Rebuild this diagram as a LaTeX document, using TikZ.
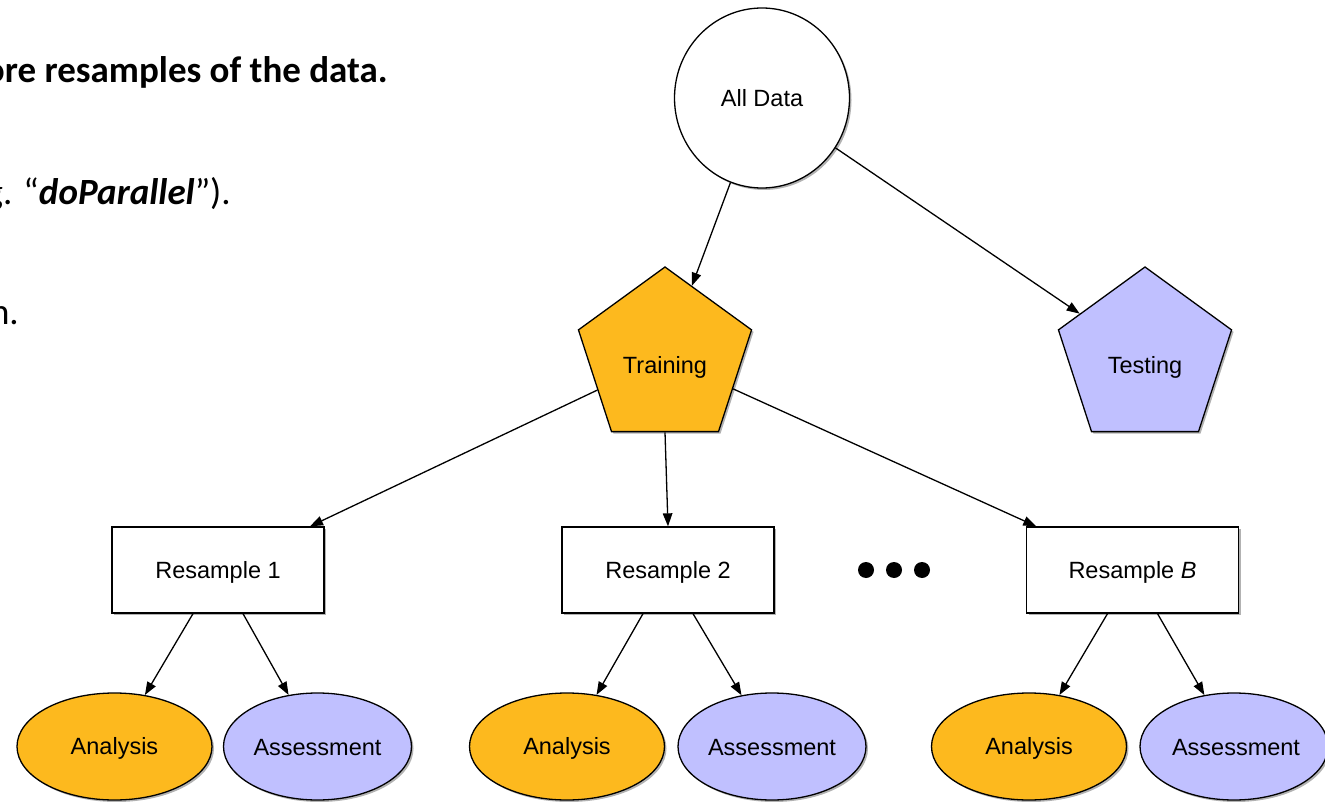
\documentclass[tikz,border=0pt]{standalone}
\usepackage{fontspec}
\setmainfont{Liberation Sans}
\newfontfamily\bodyfont{Carlito}
\usetikzlibrary{shapes.geometric,arrows.meta,shadows}
\definecolor{trainorange}{RGB}{253,185,30}
\definecolor{testlav}{RGB}{192,192,255}

\begin{document}
\begin{tikzpicture}[x=1pt,y=-1pt,
  lbl/.style={font=\fontsize{23.5}{28}\selectfont, inner sep=0pt},
  softshadow/.style={drop shadow={shadow xshift=2pt,shadow yshift=-2pt,opacity=0.3,fill=black}},
  shapeline/.style={draw=black, line width=1.3pt, inner sep=0pt, softshadow},
  pent/.style={shapeline, regular polygon, regular polygon sides=5, minimum size=182pt},
  resbox/.style={shapeline, rectangle, fill=white, minimum width=212pt, minimum height=86pt},
  anaell/.style={shapeline, ellipse, fill=trainorange, minimum width=195pt, minimum height=107pt},
  assell/.style={shapeline, ellipse, fill=testlav, minimum width=188pt, minimum height=107pt},
  link/.style={draw=black, line width=1.3pt, -{Triangle[length=13pt,width=9.5pt]}},
  bullettext/.style={font=\bodyfont\fontsize{37}{44}\selectfont, inner sep=0pt, anchor=base east},
  dot/.style={circle, fill=black, minimum size=16pt, inner sep=0pt}
]
\useasboundingbox (0,0) rectangle (1325,802);
\clip (0,0) rectangle (1325,802);

% slide text running in from the left edge
\node[bullettext] (line1) at (388,83) {\bfseries ore resamples of the data.};
\node[bullettext] (line2) at (231,205) {g. \char"201C\textbf{\textit{doParallel}}\char"201D).};
\node[bullettext] (line3) at (19,324) {n.};

% top of the tree
\node[shapeline, ellipse, fill=white, minimum width=175pt, minimum height=180pt] (all) at (762,98) {};
\node[lbl] (alllbl) at (762,98) {All Data};

\node[pent, fill=trainorange] (train) at (665,358) {};
\node[lbl] (trainlbl) at (665,367) {Training};
\node[pent, fill=testlav] (test) at (1145,358) {};
\node[lbl] (testlbl) at (1145,367) {Testing};

% resamples
\node[resbox] (r1) at (218,570) {};
\node[lbl] (r1lbl) at (218,572) {Resample 1};
\node[resbox] (r2) at (668,570) {};
\node[lbl] (r2lbl) at (668,572) {Resample 2};
\node[resbox] (rb) at (1132.5,570) {};
\node[lbl] (rblbl) at (1132.5,572) {Resample \textit{B}};

\node[dot] (d1) at (866,570) {};
\node[dot] (d2) at (894,570) {};
\node[dot] (d3) at (922,570) {};

% analysis / assessment splits
\node[anaell] (a1) at (114.5,746.5) {};
\node[lbl] (a1lbl) at (114.5,748) {Analysis};
\node[assell] (s1) at (317.5,746.5) {};
\node[lbl] (s1lbl) at (317.5,748) {Assessment};
\node[anaell] (a2) at (567,746.5) {};
\node[lbl] (a2lbl) at (567,748) {Analysis};
\node[assell] (s2) at (772,746.5) {};
\node[lbl] (s2lbl) at (772,748) {Assessment};
\node[anaell] (ab) at (1029,746.5) {};
\node[lbl] (ablbl) at (1029,748) {Analysis};
\node[assell] (sb) at (1234,746.5) {};
\node[lbl] (sblbl) at (1236,748) {Assessment};

% connectors
\draw[link] (all) -- (train);
\draw[link] (all) -- (test);
\draw[link] (train) -- (r1);
\draw[link] (train.south) -- (r2.north);
\draw[link] (train) -- (rb);
\draw[link] ([xshift=-25pt]r1.south) -- (a1);
\draw[link] ([xshift=25pt]r1.south) -- (s1);
\draw[link] ([xshift=-25pt]r2.south) -- (a2);
\draw[link] ([xshift=25pt]r2.south) -- (s2);
\draw[link] ([xshift=-25pt]rb.south) -- (ab);
\draw[link] ([xshift=25pt]rb.south) -- (sb);
\end{tikzpicture}
\end{document}
